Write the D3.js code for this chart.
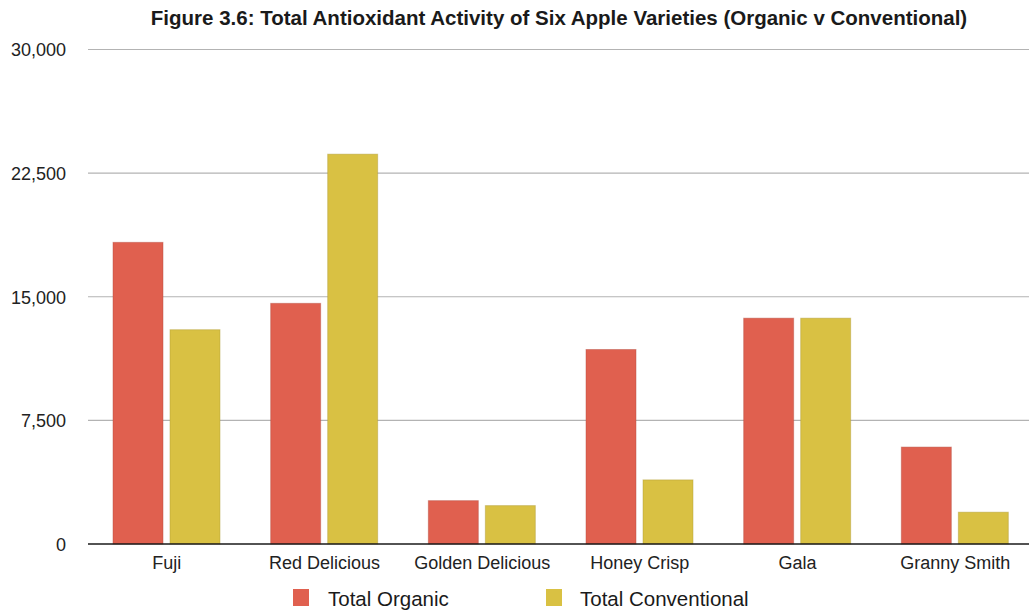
<!DOCTYPE html>
<html>
<head>
<meta charset="utf-8">
<script src="https://cdn.jsdelivr.net/npm/d3@7/dist/d3.min.js"></script>
<style>
  html, body { margin: 0; padding: 0; background: #fff; }
  svg { display: block; font-family: "Liberation Sans", Arial, sans-serif; }
</style>
</head>
<body>
<svg id="chart" width="1029" height="613"></svg>
<script>
// Apple varieties on the x axis
const categories = ["Fuji", "Red Delicious", "Golden Delicious", "Honey Crisp", "Gala", "Granny Smith"];
// Total antioxidant activity per variety
const organic = [18300, 14600, 2630, 11800, 13700, 5880];
const conventional = [13000, 23650, 2330, 3890, 13700, 1930];
const seriesNames = ["Total Organic", "Total Conventional"];
const seriesColors = ["#e0604f", "#d9c143"];
const yTicks = [0, 7500, 15000, 22500, 30000];
const title = "Figure 3.6: Total Antioxidant Activity of Six Apple Varieties (Organic v Conventional)";

const seriesValues = [organic, conventional];
const rows = categories.map((c, i) => ({
  category: c,
  values: seriesNames.map((s, j) => ({ series: s, value: seriesValues[j][i], color: seriesColors[j] }))
}));

const svg = d3.select("#chart");
const W = 1029;

const x0 = d3.scaleBand().domain(categories).range([88, 1034]).paddingInner(0).paddingOuter(0);
const x1 = d3.scaleBand().domain(seriesNames).range([25, 132]).paddingInner(0.123).paddingOuter(0);
const y = d3.scaleLinear().domain([0, 30000]).range([544, 49.5]);

// Title
svg.append("text")
  .attr("x", 559).attr("y", 25)
  .attr("text-anchor", "middle")
  .attr("font-weight", "bold")
  .attr("font-size", 20.5)
  .attr("fill", "#1a1a1a")
  .text(title);

// Horizontal grid lines
svg.append("g")
  .selectAll("line")
  .data(yTicks.filter(t => t !== 0))
  .join("line")
  .attr("x1", 88).attr("x2", W)
  .attr("y1", d => y(d)).attr("y2", d => y(d))
  .attr("stroke", "#b3b3b3")
  .attr("stroke-width", 1.2);

// Y axis tick labels
const yAxis = d3.axisLeft(y).tickValues(yTicks).tickFormat(d3.format(",")).tickSize(0).tickPadding(0);
const gy = svg.append("g").attr("transform", "translate(66,0)").call(yAxis);
gy.select(".domain").remove();
gy.selectAll("text")
  .attr("font-family", "Liberation Sans, Arial, sans-serif")
  .attr("font-size", 18)
  .attr("fill", "#222")
  .attr("dy", "0.36em");

// Bars
const groups = svg.append("g")
  .selectAll("g")
  .data(rows)
  .join("g")
  .attr("transform", d => `translate(${x0(d.category)},0)`);

groups.selectAll("rect")
  .data(d => d.values)
  .join("rect")
  .attr("x", d => x1(d.series))
  .attr("width", x1.bandwidth())
  .attr("y", d => y(d.value))
  .attr("height", d => y(0) - y(d.value))
  .attr("fill", d => d.color)
  .attr("stroke", d => d3.color(d.color).darker(0.6))
  .attr("stroke-opacity", 0.45)
  .attr("stroke-width", 1);

// Baseline
svg.append("line")
  .attr("x1", 88).attr("x2", W)
  .attr("y1", y(0)).attr("y2", y(0))
  .attr("stroke", "#1a1a1a")
  .attr("stroke-width", 1.5);

// X axis category labels
const xAxis = d3.axisBottom(x0).tickSize(0).tickPadding(0);
const gx = svg.append("g").attr("transform", `translate(0,${y(0)})`).call(xAxis);
gx.select(".domain").remove();
gx.selectAll("text")
  .attr("font-family", "Liberation Sans, Arial, sans-serif")
  .attr("font-size", 18)
  .attr("fill", "#222")
  .attr("dy", null)
  .attr("y", 25);

// Legend
const legendX = [293, 546];
const legend = svg.append("g")
  .selectAll("g")
  .data(seriesNames)
  .join("g")
  .attr("transform", (d, i) => `translate(${legendX[i]},589)`);
legend.append("rect")
  .attr("width", 16).attr("height", 17)
  .attr("fill", (d, i) => seriesColors[i]);
legend.append("text")
  .attr("x", (d, i) => i === 0 ? 35 : 34)
  .attr("y", 17)
  .attr("font-size", 20.5)
  .attr("fill", "#1a1a1a")
  .text(d => d);
</script>
</body>
</html>
